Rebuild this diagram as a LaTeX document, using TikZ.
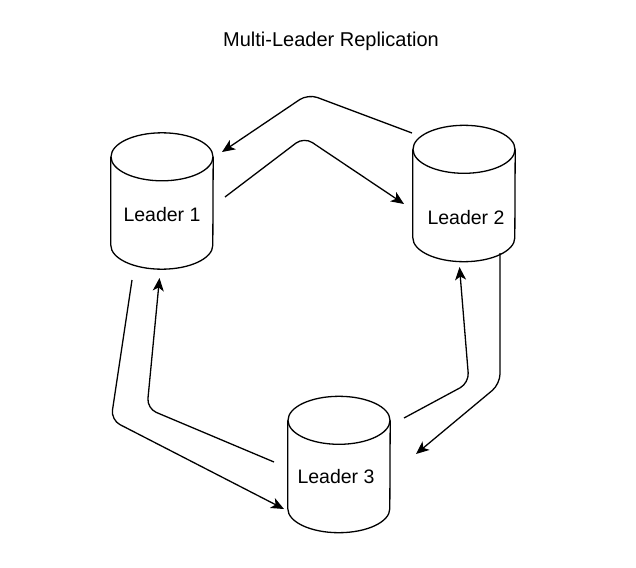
\documentclass[tikz,border=0pt]{standalone}
\usepackage{fontspec}
\setmainfont{Liberation Sans}
\usetikzlibrary{arrows.meta,calc}
\tikzset{
  cylbox/.style={draw=none, inner sep=0pt, minimum width=102pt, minimum height=136pt},
  lbl/.style={font=\fontsize{19.5}{22}\selectfont, inner sep=0pt},
  ttl/.style={font=\fontsize{20}{24}\selectfont, inner sep=0pt},
  cylline/.style={line width=1.3pt, black},
  conn/.style={line width=1.3pt, rounded corners=10pt, -{Stealth[length=13pt,width=11pt,inset=3.5pt]}},
}
\newcommand\cylinderdraw[1]{%
  \draw[cylline] ($(#1.north)+(0,24)$) ellipse [x radius=51pt, y radius=24pt];
  \draw[cylline] ($(#1.north west)+(0,24)$) -- ($(#1.south west)+(0,-24)$)
    arc [start angle=180, end angle=360, x radius=51pt, y radius=24pt]
    -- ($(#1.north east)+(0,24)$);
}
\begin{document}
\begin{tikzpicture}[x=1pt,y=-1pt]
\useasboundingbox (0,0) rectangle (636,567);
\node[ttl] (title) at (331,41) {Multi-Leader Replication};

\node[cylbox] (l1) at (162,201) {};
\node[cylbox] (l2) at (464,193.5) {};
\node[cylbox] (l3) at (339,464.5) {};
\cylinderdraw{l1}
\cylinderdraw{l2}
\cylinderdraw{l3}
\node[lbl] (l1t) at (162,215) {Leader 1};
\node[lbl] (l2t) at (466,218) {Leader 2};
\node[lbl] (l3t) at (336,477) {Leader 3};

% connector end points
\coordinate (a0) at (412,133);  \coordinate (a1) at (308,94);   \coordinate (a2) at (222,152);
\coordinate (b0) at (225,197);  \coordinate (b1) at (304,137);  \coordinate (b2) at (404,204);
\coordinate (c0) at (132,280);  \coordinate (c1) at (111,420);  \coordinate (c2) at (284,509);
\coordinate (d0) at (274,462);  \coordinate (d1) at (147,408.5);\coordinate (d2) at (159.5,278);
\coordinate (e0) at (404,418);  \coordinate (e1) at (469,383);  \coordinate (e2) at (459.5,267);
\coordinate (f0) at (500,253);  \coordinate (f1) at (500,384);  \coordinate (f2) at (416,454);

\draw[conn] (a0) -- (a1) -- (a2);
\draw[conn] (b0) -- (b1) -- (b2);
\draw[conn] (c0) -- (c1) -- (c2);
\draw[conn] (d0) -- (d1) -- (d2);
\draw[conn] (e0) -- (e1) -- (e2);
\draw[conn] (f0) -- (f1) -- (f2);
\end{tikzpicture}
\end{document}
